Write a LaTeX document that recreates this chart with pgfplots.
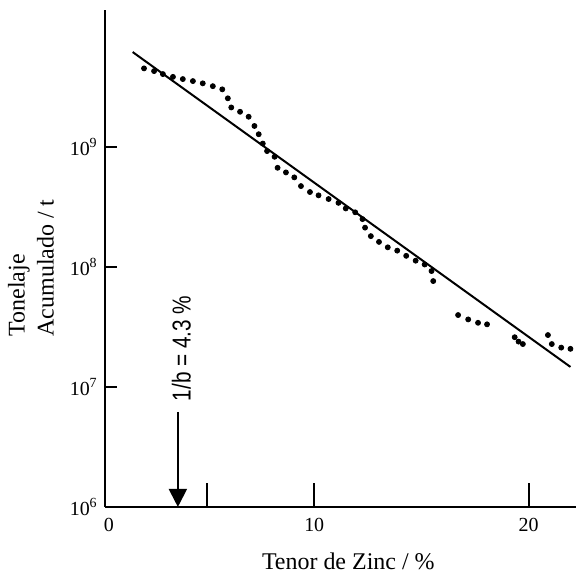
\documentclass[border=0pt]{standalone}
\usepackage{fontspec}
\setmainfont{Liberation Serif}
\setsansfont{Liberation Sans}
\usepackage{pgfplots}
\pgfplotsset{compat=1.18}
\usetikzlibrary{arrows.meta}

\begin{document}
\begin{tikzpicture}
\begin{axis}[
    name=ax,
    scale only axis,
    width=236pt, height=249pt,
    ymode=log,
    xmin=0.23, xmax=22.2,
    ymin=1e6, ymax=1.39e10,
    axis x line*=bottom, axis y line*=left,
    axis line style={line width=1.2pt},
    tick align=inside,
    tick style={line width=1.1pt, black},
    xtick={5,10,20}, xticklabels={,10,20},
    extra x ticks={0.42}, extra x tick labels={0},
    extra x tick style={tick style={draw=none}},
    x tick style={/pgfplots/major tick length=12pt},
    ytick={1e6,1e7,1e8,1e9},
    yticklabels={10\textsuperscript{6},10\textsuperscript{7},10\textsuperscript{8},10\textsuperscript{9}},
    y tick style={/pgfplots/major tick length=6pt},
    minor tick num=0,
    log basis y=10,
    ticklabel style={font=\fontsize{10}{10}\selectfont},
    xticklabel style={yshift=-2pt},
    xlabel={Tenor de Zinc / \%},
    xlabel style={font=\fontsize{12}{12}\selectfont, at={(axis description cs:0.517,0)}, anchor=center, yshift=-27.5pt},
    ylabel={Tonelaje\\Acumulado / t},
    ylabel style={font=\fontsize{12}{14.5}\selectfont, align=left, at={(axis description cs:0,0.481)}, anchor=center, yshift=37pt},
    clip=false,
]
% datos (puntos)
\addplot[only marks, mark=*, mark size=1.25pt, black] coordinates {
(2.06,4.53e9)(2.53,4.30e9)(2.94,4.06e9)(3.41,3.85e9)(3.87,3.69e9)(4.34,3.55e9)
(4.80,3.40e9)(5.27,3.22e9)(5.71,3.03e9)(5.97,2.55e9)(6.13,2.14e9)(6.54,1.97e9)
(6.94,1.79e9)(7.21,1.50e9)(7.41,1.28e9)(7.60,1.07e9)(7.80,9.26e8)(8.15,8.30e8)
(8.29,6.72e8)(8.68,6.15e8)(9.07,5.59e8)(9.38,4.73e8)(9.80,4.22e8)(10.20,3.96e8)
(10.67,3.69e8)(11.13,3.43e8)(11.47,3.08e8)(11.91,2.86e8)(12.25,2.51e8)(12.37,2.13e8)
(12.64,1.81e8)(13.02,1.62e8)(13.43,1.46e8)(13.87,1.37e8)(14.29,1.24e8)(14.73,1.13e8)
(15.15,1.05e8)(15.47,9.26e7)(15.55,7.64e7)
(16.71,3.98e7)(17.18,3.66e7)(17.64,3.43e7)(18.06,3.33e7)
(19.35,2.60e7)(19.53,2.39e7)(19.73,2.28e7)
(20.90,2.71e7)(21.08,2.28e7)(21.52,2.13e7)(21.95,2.08e7)
};
% recta ajustada
\addplot[no marks, line width=1pt, black] coordinates {(1.53,6.2e9)(21.95,1.47e7)};
% flecha 1/b
\draw[line width=1pt, -{Triangle[width=9pt,length=9pt]}] (axis cs:3.64,6.2e6) -- (axis cs:3.64,1e6);
\node[rotate=90, font=\fontsize{13}{13}\sffamily] at (axis cs:3.8,2.1e7) {\scalebox{0.8}[1]{1/b = 4.3 \%}};
\end{axis}
\path (ax.south west) ++(-52.5pt,-32pt) rectangle ++(288.5pt,286pt);
\end{tikzpicture}
\end{document}
